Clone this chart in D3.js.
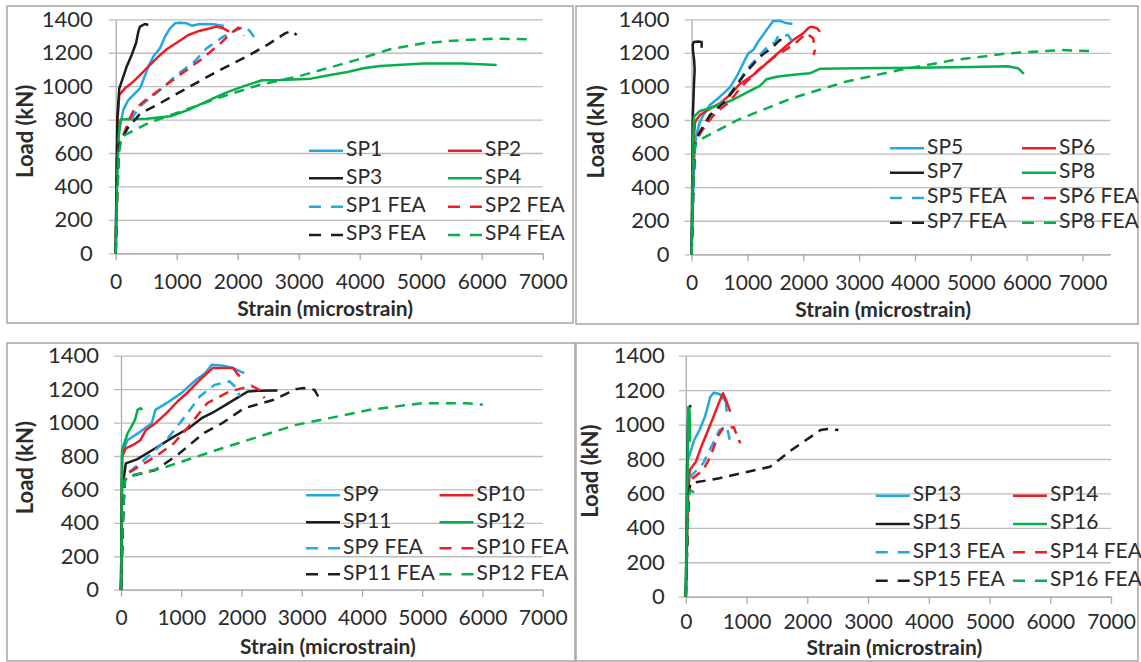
<!DOCTYPE html>
<html>
<head>
<meta charset="utf-8">
<script src="https://cdn.jsdelivr.net/npm/d3@7"></script>
<style>
  body { margin: 0; background: #fff; }
  svg { display: block; }
  text { font-family: Lato, "Open Sans", sans-serif; fill: #2b2b2b; }
</style>
</head>
<body>
<svg id="chart" width="1141" height="662"></svg>
<script>
// strain (microstrain) vs load (kN)
const xTicks = [0, 1000, 2000, 3000, 4000, 5000, 6000, 7000];
const yTicks = [0, 200, 400, 600, 800, 1000, 1200, 1400];

const sp1 = [[0,0],[10,400],[30,650],[60,750],[98,808],[125,858],[207,917],[316,957],[398,987],[453,1037],[535,1117],[617,1177],[726,1227],[808,1296],[890,1346],[972,1376],[1054,1380],[1164,1376],[1246,1362],[1382,1372],[1600,1370],[1775,1360]];
const sp2 = [[0,0],[15,400],[30,800],[59,947],[152,987],[289,1027],[426,1077],[562,1127],[699,1177],[836,1221],[1000,1260],[1191,1306],[1382,1332],[1546,1346],[1656,1356],[1764,1346],[1860,1326]];
const sp3 = [[0,0],[10,300],[20,600],[26,808],[59,987],[125,1057],[180,1117],[262,1187],[333,1257],[371,1326],[398,1356],[480,1372],[535,1366]];
const sp4 = [[0,0],[20,400],[50,700],[80,800],[500,805],[900,820],[1200,860],[1500,910],[1800,960],[2100,1000],[2400,1035],[2693,1037],[3200,1045],[3513,1067],[3800,1085],[4059,1107],[4333,1121],[5043,1135],[5698,1135],[6246,1127]];
const sp1Fea = [[0,0],[30,400],[60,650],[130,700],[250,800],[400,880],[726,977],[1000,1067],[1300,1150],[1492,1227],[1764,1296],[2039,1346],[2120,1356],[2200,1330],[2284,1286]];
const sp2Fea = [[0,0],[30,400],[60,650],[120,700],[200,780],[300,860],[500,920],[800,1000],[1100,1080],[1400,1160],[1700,1250],[1900,1320],[2010,1350],[2060,1330],[2100,1300]];
const sp3Fea = [[0,0],[20,400],[50,650],[100,690],[200,750],[400,835],[672,887],[1164,987],[1656,1087],[2148,1177],[2500,1250],[2777,1316],[2885,1330],[2967,1306]];
const sp4Fea = [[0,0],[20,300],[50,600],[103,698],[530,778],[1136,858],[1743,937],[2349,1007],[3021,1061],[3951,1157],[4497,1221],[5043,1257],[5534,1272],[6190,1284],[6738,1281]];

const sp5 = [[0,0],[30,400],[50,600],[80,700],[140,780],[209,830],[329,889],[508,939],[687,994],[806,1058],[925,1138],[1014,1197],[1104,1217],[1193,1267],[1342,1336],[1461,1390],[1580,1391],[1670,1380],[1806,1372]];
const sp6 = [[0,0],[20,400],[40,700],[64,790],[150,830],[368,875],[508,900],[687,950],[866,1015],[1104,1068],[1342,1138],[1580,1208],[1819,1277],[1998,1316],[2100,1350],[2150,1356],[2250,1345],[2300,1326]];
const sp7 = [[0,0],[10,400],[20,800],[43,1018],[55,1100],[45,1160],[25,1210],[20,1250],[40,1265],[120,1268],[180,1265],[180,1230]];
const sp8 = [[0,0],[15,400],[30,700],[43,820],[149,854],[329,870],[508,894],[687,913],[866,943],[1044,973],[1223,1003],[1342,1043],[1521,1058],[1819,1070],[2117,1078],[2296,1105],[3000,1108],[4000,1112],[5000,1116],[5660,1120],[5850,1108],[5950,1075]];
const sp5Fea = [[0,0],[30,400],[60,650],[150,720],[400,850],[700,960],[1010,1110],[1200,1180],[1400,1250],[1491,1260],[1551,1300],[1730,1306],[1819,1257]];
const sp6Fea = [[0,0],[30,400],[60,650],[150,720],[300,790],[450,850],[650,900],[900,1000],[1200,1100],[1500,1180],[1819,1247],[2058,1316],[2177,1287],[2207,1217],[2188,1187]];
const sp7Fea = [[0,0],[30,400],[60,650],[100,700],[200,760],[329,830],[627,919],[806,1008],[985,1088],[1223,1177],[1461,1237],[1580,1277],[1700,1267]];
const sp8Fea = [[0,0],[30,400],[60,650],[141,681],[821,800],[1789,929],[2758,1028],[3726,1098],[4693,1157],[5663,1197],[6632,1217],[7117,1211]];

const sp9 = [[0,0],[10,400],[18,816],[110,896],[325,946],[510,996],[571,1076],[755,1116],[1001,1176],[1246,1256],[1400,1296],[1505,1346],[1677,1342],[1861,1326],[2045,1296]];
const sp10 = [[0,0],[10,400],[18,796],[80,846],[202,866],[325,896],[416,956],[571,996],[755,1056],[939,1126],[1123,1186],[1308,1256],[1522,1326],[1861,1326],[1922,1296],[1970,1276]];
const sp11 = [[0,0],[10,400],[18,676],[40,650],[80,756],[264,780],[571,846],[878,916],[1123,966],[1338,1026],[1554,1066],[1738,1106],[1922,1146],[2106,1186],[2290,1190],[2597,1192]];
const sp12 = [[0,0],[10,400],[18,836],[110,936],[172,976],[232,1016],[276,1076],[325,1086],[355,1076]];
const sp9Fea = [[0,0],[30,400],[60,650],[110,696],[446,796],[755,896],[1062,1036],[1308,1156],[1554,1226],[1800,1246],[1922,1206],[1970,1156]];
const sp10Fea = [[0,0],[30,400],[60,650],[110,696],[571,796],[878,876],[1123,976],[1431,1116],[1800,1186],[2168,1220],[2290,1196],[2382,1146]];
const sp11Fea = [[0,0],[30,400],[60,650],[110,676],[571,716],[939,806],[1369,936],[1677,996],[2045,1086],[2536,1136],[2905,1200],[3028,1206],[3212,1196],[3273,1156]];
const sp12Fea = [[0,0],[30,400],[60,650],[110,676],[755,736],[1677,846],[2905,986],[4133,1076],[4993,1116],[5731,1116],[6006,1106]];

const sp13 = [[0,0],[10,400],[18,775],[137,910],[226,968],[316,1046],[405,1162],[464,1185],[553,1178],[660,1133],[672,1075]];
const sp14 = [[0,0],[20,300],[40,600],[66,736],[166,784],[256,872],[435,1027],[553,1133],[612,1182],[672,1133],[731,1075]];
const sp15 = [[0,0],[15,400],[25,800],[35,1000],[45,1100],[90,1110]];
const sp16 = [[0,0],[20,500],[35,900],[40,1100],[60,1090],[70,1000],[65,900]];
const sp13Fea = [[0,0],[30,400],[50,600],[77,697],[286,775],[435,881],[553,968],[672,988],[701,949],[745,872]];
const sp14Fea = [[0,0],[30,400],[50,600],[77,678],[286,736],[405,813],[524,930],[612,978],[790,984],[850,930],[897,891]];
const sp15Fea = [[0,0],[30,400],[50,600],[77,659],[553,688],[1386,755],[1742,852],[2218,968],[2336,974],[2514,968]];
const sp16Fea = [[0,0],[20,300],[40,550],[70,620],[137,605]];

const colors = ["#23a7e1", "#ec1d25", "#1c1c1c", "#07ae4c"];

const panels = [
  { box: [7, 6, 573, 323], left: 115.7, right: 542.7, top: 19.3, bottom: 253.3, xMax: 7000,
    labelGap: 23, tickPad: 14, xTitleY: 311, yTitleX: 27, legX: [309, 448], legY: [150.7, 178.3, 206.7, 235],
    names: ["SP1", "SP2", "SP3", "SP4"], series: [sp1, sp2, sp3, sp4], fea: [sp1Fea, sp2Fea, sp3Fea, sp4Fea] },
  { box: [576, 6, 1138, 324], left: 691.6, right: 1110.4, top: 19.3, bottom: 254.3, xMax: 7500,
    labelGap: 22, tickPad: 14, xTitleY: 312, yTitleX: 598, legX: [890, 1022], legY: [148.3, 172.7, 198, 222.7],
    names: ["SP5", "SP6", "SP7", "SP8"], series: [sp5, sp6, sp7, sp8], fea: [sp5Fea, sp6Fea, sp7Fea, sp8Fea] },
  { box: [7, 343, 575, 661], left: 121, right: 542.7, top: 355.7, bottom: 589.7, xMax: 7000,
    labelGap: 22, tickPad: 13, xTitleY: 649, yTitleX: 27, legX: [306, 439.5], legY: [495.3, 522.3, 548.3, 574.3],
    names: ["SP9", "SP10", "SP11", "SP12"], series: [sp9, sp10, sp11, sp12], fea: [sp9Fea, sp10Fea, sp11Fea, sp12Fea] },
  { box: [576, 343, 1138, 661], left: 685.8, right: 1111, top: 355.7, bottom: 596.7, xMax: 7000,
    labelGap: 21, tickPad: 10, xTitleY: 650, yTitleX: 592, legX: [875.7, 1013], legY: [495.7, 524, 552.3, 580.7],
    names: ["SP13", "SP14", "SP15", "SP16"], series: [sp13, sp14, sp15, sp16], fea: [sp13Fea, sp14Fea, sp15Fea, sp16Fea] }
];

const svg = d3.select("#chart");
const dash = "10,7";
const fmt = d3.format("d");

panels.forEach(p => {
  const [bx0, by0, bx1, by1] = p.box;
  svg.append("rect")
    .attr("x", bx0).attr("y", by0)
    .attr("width", bx1 - bx0).attr("height", by1 - by0)
    .attr("fill", "none").attr("stroke", "#a5a5a5").attr("stroke-width", 1.5);

  const x = d3.scaleLinear().domain([0, p.xMax]).range([p.left, p.right]);
  const y = d3.scaleLinear().domain([0, 1400]).range([p.bottom, p.top]);
  const w = p.right - p.left;

  const yAxis = svg.append("g")
    .attr("transform", `translate(${p.left},0)`)
    .call(d3.axisLeft(y).tickValues(yTicks).tickFormat(fmt)
      .tickSizeInner(-w).tickSizeOuter(0).tickPadding(p.labelGap));
  yAxis.selectAll(".tick line").attr("x1", -7).attr("stroke", "#bdbdbd").attr("stroke-width", 1.3);
  yAxis.select(".domain").attr("stroke", "#a9a9a9").attr("stroke-width", 1.3);
  yAxis.selectAll("text").attr("font-size", 22).attr("font-family", "Lato").attr("fill", "#2b2b2b");

  const xAxis = svg.append("g")
    .attr("transform", `translate(0,${p.bottom})`)
    .call(d3.axisBottom(x).tickValues(xTicks).tickFormat(fmt)
      .tickSizeInner(7).tickSizeOuter(0).tickPadding(p.tickPad));
  xAxis.selectAll(".tick line").attr("stroke", "#a9a9a9").attr("stroke-width", 1.3);
  xAxis.select(".domain").attr("stroke", "#a9a9a9").attr("stroke-width", 1.3);
  xAxis.selectAll("text").attr("font-size", 21).attr("font-family", "Lato").attr("fill", "#2b2b2b");

  svg.append("text")
    .attr("x", (p.left + x(7000)) / 2 - 4).attr("y", p.xTitleY)
    .attr("text-anchor", "middle").attr("dominant-baseline", "middle")
    .attr("font-size", 21).attr("font-weight", "bold")
    .text("Strain (microstrain)");

  svg.append("text")
    .attr("transform", `translate(${p.yTitleX},${(p.top + p.bottom) / 2 - 5}) rotate(-90)`)
    .attr("text-anchor", "middle").attr("dominant-baseline", "middle")
    .attr("font-size", 22).attr("font-weight", "bold")
    .text("Load (kN)");

  const line = d3.line().x(d => x(d[0])).y(d => y(d[1]));

  svg.append("g").selectAll("path")
    .data(p.series)
    .join("path")
    .attr("d", line)
    .attr("fill", "none")
    .attr("stroke", (d, i) => colors[i])
    .attr("stroke-width", 2.5)
    .attr("stroke-linejoin", "round");

  svg.append("g").selectAll("path")
    .data(p.fea)
    .join("path")
    .attr("d", line)
    .attr("fill", "none")
    .attr("stroke", (d, i) => colors[i])
    .attr("stroke-width", 2.5)
    .attr("stroke-dasharray", dash);

  // legend: two columns, solid rows then FEA rows
  const items = [];
  p.names.forEach((n, i) => items.push({ name: n, color: colors[i], dashed: false, idx: i }));
  p.names.forEach((n, i) => items.push({ name: n + " FEA", color: colors[i], dashed: true, idx: i + 4 }));

  const leg = svg.append("g").selectAll("g")
    .data(items)
    .join("g")
    .attr("transform", d => `translate(${p.legX[d.idx % 2]},${p.legY[Math.floor(d.idx / 2)]})`);

  leg.append("line")
    .attr("x1", 0).attr("x2", 34)
    .attr("stroke", d => d.color)
    .attr("stroke-width", 2.5)
    .attr("stroke-dasharray", d => d.dashed ? "12,10" : null);

  leg.append("text")
    .attr("x", 37).attr("dominant-baseline", "middle")
    .attr("font-size", 21)
    .text(d => d.name);
});
</script>
</body>
</html>
